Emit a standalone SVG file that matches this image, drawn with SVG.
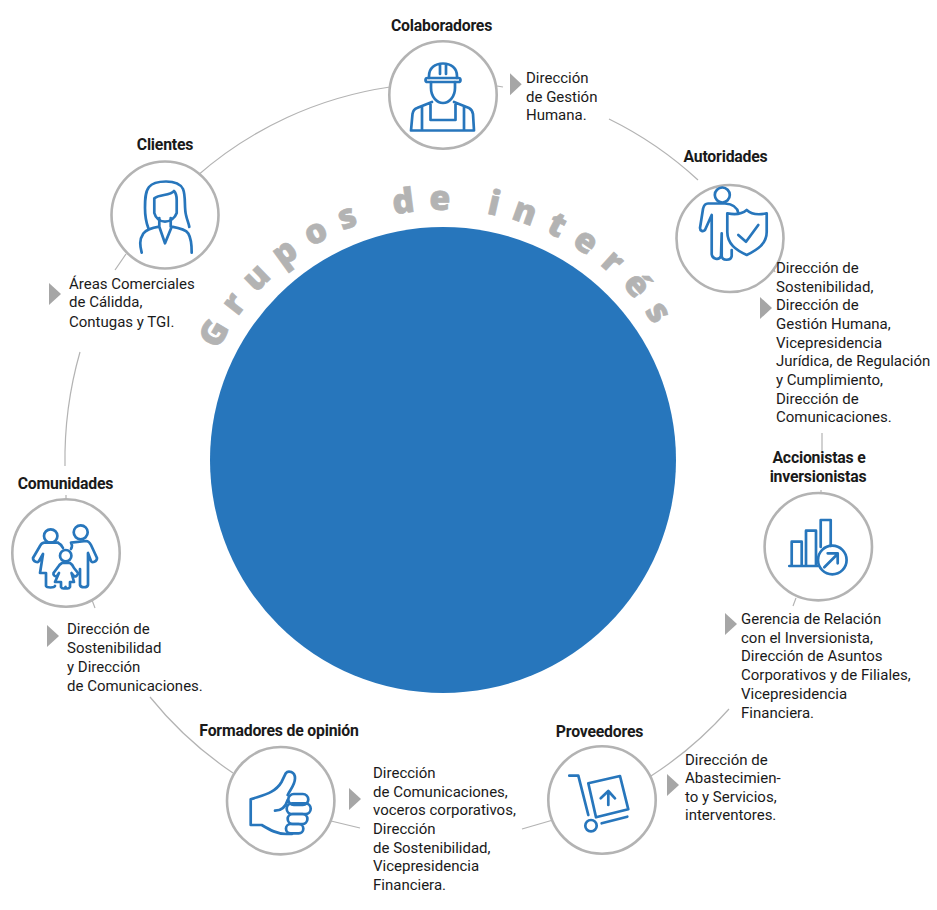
<svg xmlns="http://www.w3.org/2000/svg" width="937" height="910" viewBox="0 0 937 910">
<style>
.ring{fill:#fff;stroke:#b3b3b3;stroke-width:2.600}
.con{fill:none;stroke:#b3b3b3;stroke-width:1.200}
.ic{fill:none;stroke:#2776bc;stroke-width:2.700;stroke-linecap:round;stroke-linejoin:round}
.tri{fill:#a6a6a6}
.t{font-family:"Roboto","Liberation Sans",sans-serif;font-size:15px;fill:#1a1a1a}
.h{font-family:"Roboto","Liberation Sans",sans-serif;font-size:15.800px;font-weight:700;fill:#1a1a1a;text-anchor:middle;letter-spacing:-.2px}
.arc{font-family:"Open Sans","Liberation Sans",sans-serif;font-size:34px;font-weight:800;fill:#b3b3b3;stroke:#b3b3b3;stroke-width:.7px;letter-spacing:13.700px}
</style>
<defs><path id="arcp" d="M218.300 350.400A250 250 0 0 1 667.700 350.400" fill="none"/></defs>
<rect width="937" height="910" fill="#fff"/>
<g id="connectors">
<path class="con" d="M390 87A375 375 0 0 0 197 176"/>
<path class="con" d="M497 86L503 87"/>
<path class="con" d="M609 119A375 375 0 0 1 698 180"/>
<path class="con" d="M771 264L775 272"/>
<path class="con" d="M822 433V452"/>
<path class="con" d="M821 490V494"/>
<path class="con" d="M796 598L793 606"/>
<path class="con" d="M729 709A375 375 0 0 1 651 776"/>
<path class="con" d="M553 820L522 829"/>
<path class="con" d="M331 821L360 828"/>
<path class="con" d="M233 773A375 375 0 0 1 150 697"/>
<path class="con" d="M92 600L95 608"/>
<path class="con" d="M66 495V500"/>
<path class="con" d="M65 466A390 390 0 0 1 80 352"/>
<path class="con" d="M126 254L115 270"/>
</g>
<circle id="centro" cx="443" cy="460" r="233" fill="#2776bc"/>
<text class="arc"><textPath href="#arcp">Grupos de interés</textPath></text>
<g id="colaboradores">
<circle class="ring" cx="443" cy="95" r="53.700"/>
<path class="ic" d="M429 78V76C429 68 435 63.500 443 63.500C451 63.500 457 68 457 76V78M440 64V74M446 64V74"/>
<rect class="ic" x="425.500" y="78" width="35" height="4" rx="2"/>
<path class="ic" d="M431 82V88C431 97 437 103 443 103C449 103 455 97 455 88V82"/>
<path class="ic" d="M432 102L417 108C414 109 413 111 412.500 114L411 130.500H474L473 114C472.500 111 471 109 469 108L454 102M422 107V130M464 107V130M430.500 104V120H455.500V104"/>
<text class="h" x="441.500" y="31">Colaboradores</text>
<path class="tri" d="M510 73.300L521.700 84.300L510 95.300Z"/>
<text class="t" x="526" y="82.500">Dirección</text>
<text class="t" x="526" y="101.500">de Gestión</text>
<text class="t" x="526" y="120">Humana.</text>
</g>
<g id="clientes">
<circle class="ring" cx="165" cy="215" r="53.500"/>
<path class="ic" d="M148.300 228C146 222 145 216 145 208C145 200 145 192 149 187C153 182 160 181.500 166 181.500C173 181.500 180 183 183 189C186 196 184 208 186 215C187 220 189 224 189.300 227"/>
<path class="ic" d="M154.300 198.300C160 194 170 196 174 191C176 193 176.700 196 176.700 200V213C175 218 170 221.700 165 221.700C160 221.700 155.500 218 154.300 213Z"/>
<path class="ic" d="M141.700 252.700C140 246 139 240 143.300 233.500C146 230 151 228 159.300 226.700L165 243.300L171.700 226.700C179 228 186 230 188.300 233.500C191 238 191.700 246 191.700 252.700M159.300 218V226.700M170.700 218V226.700"/>
<text class="h" x="165" y="150">Clientes</text>
<path class="tri" d="M49 283L61 294L49 305Z"/>
<text class="t" x="69" y="288.500">Áreas Comerciales</text>
<text class="t" x="69" y="307">de Cálidda,</text>
<text class="t" x="69" y="326.500">Contugas y TGI.</text>
</g>
<g id="autoridades">
<circle class="ring" cx="730" cy="238.500" r="53.500"/>
<circle class="ic" cx="722.300" cy="195" r="7.500"/>
<path class="ic" d="M725 203.500H708C704 203.500 703.500 207 703 209L700 228C700 231 703 232 705 230L711.700 215V254C712 259 719 261 721 256L721.700 233.300V256C722 261 731 261 731.700 256V250M725 203.500C732 204 737 206 738.300 213"/>
<path class="ic" d="M727.300 213.300C735 215 742 214 746.700 210C751 214 759 215 766.700 213.300V232C766.700 244 757 250 746.700 255C736 250 727.300 244 727.300 232Z"/>
<path class="ic" d="M738.300 235L746 241.700L758.300 225"/>
<text class="h" x="725.500" y="162">Autoridades</text>
<path class="tri" d="M760 297L772 308L760 319Z"/>
<text class="t" x="776" y="273">Dirección de</text>
<text class="t" x="776" y="291.500">Sostenibilidad,</text>
<text class="t" x="776" y="310">Dirección de</text>
<text class="t" x="776" y="329">Gestión Humana,</text>
<text class="t" x="776" y="347.500">Vicepresidencia</text>
<text class="t" x="776" y="366">Jurídica, de Regulación</text>
<text class="t" x="776" y="385">y Cumplimiento,</text>
<text class="t" x="776" y="403.500">Dirección de</text>
<text class="t" x="776" y="422">Comunicaciones.</text>
</g>
<g id="accionistas">
<circle class="ring" cx="818.300" cy="546.700" r="53.700"/>
<path class="ic" d="M791.700 566V541.700H801.700V566M806 566V530.700H816V566M820.700 547V520H830.700V546M789.300 566H818"/>
<circle class="ic" cx="832.300" cy="560" r="14.300"/>
<path class="ic" d="M824.300 567.300L837.300 554.300M827.700 553.300H837.700V563.300"/>
<text class="h" x="819" y="463">Accionistas e</text>
<text class="h" x="818" y="482">inversionistas</text>
<path class="tri" d="M725 613L737 624L725 635Z"/>
<text class="t" x="741" y="623.500">Gerencia de Relación</text>
<text class="t" x="741" y="642.500">con el Inversionista,</text>
<text class="t" x="741" y="660.500">Dirección de Asuntos</text>
<text class="t" x="741" y="679.500">Corporativos y de Filiales,</text>
<text class="t" x="741" y="698.500">Vicepresidencia</text>
<text class="t" x="741" y="717.500">Financiera.</text>
</g>
<g id="proveedores">
<circle class="ring" cx="602" cy="800" r="53.700"/>
<path class="ic" d="M569.300 775.700H578.300L588.300 815"/>
<circle class="ic" cx="591" cy="825.700" r="5.700"/>
<path class="ic" d="M601.700 823.300L627.300 816.700M588.300 783.300L620 776L628.300 809.300L596 817.300ZM608.300 805V792M600.700 798.300L608.300 791L615 798.300"/>
<text class="h" x="599.500" y="737">Proveedores</text>
<path class="tri" d="M667 774L679 785L667 796Z"/>
<text class="t" x="685" y="764.500">Dirección de</text>
<text class="t" x="685" y="783">Abastecimien-</text>
<text class="t" x="685" y="801.500">to y Servicios,</text>
<text class="t" x="685" y="819.500">interventores.</text>
</g>
<g id="formadores">
<circle class="ring" cx="280.700" cy="800.700" r="53.700"/>
<path class="ic" d="M250.700 799.300V825H261.700C270 830 277 834 286.700 834H292M250.700 799.300C263 795 275 793.300 281.700 781.700L285.700 773.300C288.300 770 295 771.700 295 778.300C295 785 290 790 287.700 795M275 810.700C281.700 810.700 285.700 806.700 287.700 800"/>
<rect class="ic" x="288.300" y="794" width="20" height="11" rx="5.500"/>
<rect class="ic" x="286.700" y="803.300" width="24" height="10.700" rx="5.300"/>
<rect class="ic" x="287.700" y="814" width="19.700" height="10" rx="5"/>
<rect class="ic" x="286" y="824" width="17.300" height="9.300" rx="4.600"/>
<text class="h" x="279" y="736">Formadores de opinión</text>
<path class="tri" d="M349 788L361 799L349 810Z"/>
<text class="t" x="373" y="777.500">Dirección</text>
<text class="t" x="373" y="796.500">de Comunicaciones,</text>
<text class="t" x="373" y="814.500">voceros corporativos,</text>
<text class="t" x="373" y="833.500">Dirección</text>
<text class="t" x="373" y="852.500">de Sostenibilidad,</text>
<text class="t" x="373" y="871">Vicepresidencia</text>
<text class="t" x="373" y="890">Financiera.</text>
</g>
<g id="comunidades">
<circle class="ring" cx="66" cy="553" r="53.700"/>
<circle class="ic" cx="50.700" cy="536" r="6.700"/>
<circle class="ic" cx="80.700" cy="532.300" r="7"/>
<circle class="ic" cx="65.700" cy="555.700" r="5.700"/>
<path class="ic" d="M58 542.700H44C42 543 41 544 40 546L33 558C33 562 38 563 39 561L43 554L40 573H46V586C47 588 54 588 55 586M58 542.700C61 544 62 546 63 548"/>
<path class="ic" d="M71 542.700L86 541C89 541 90 543 91 545L97 558C97 562 92 563 91 561L88 553V585C87 588 81 588 80 585V569M71 542.700C72 544 72 547 71 549"/>
<path class="ic" d="M62 563H70C72 564 73 566 74 568L78 573C78 576 75 577 74 576L71.500 573L74 582H70V587C69 589 66 589 65.500 587C65 589 62 589 61 587V582H55L59 573L57 576C55 577 53 575 53.500 573L58 567C59 565 60 564 62 563Z"/>
<text class="h" x="65.500" y="489">Comunidades</text>
<path class="tri" d="M47 625L59 636L47 647Z"/>
<text class="t" x="67" y="633.500">Dirección de</text>
<text class="t" x="67" y="652.500">Sostenibilidad</text>
<text class="t" x="67" y="671.500">y Dirección</text>
<text class="t" x="67" y="690.500">de Comunicaciones.</text>
</g>
</svg>
